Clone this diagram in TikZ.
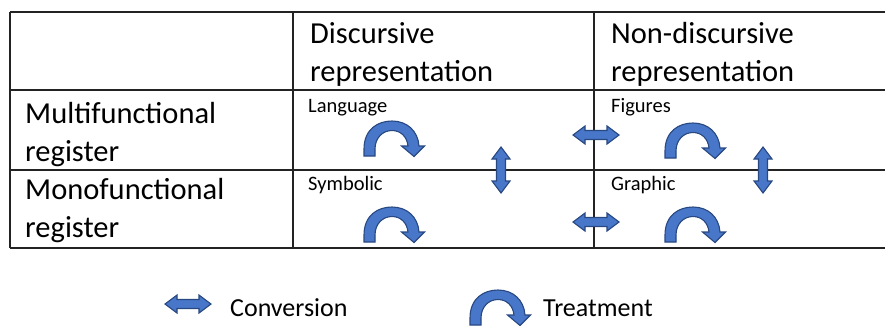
\documentclass[tikz,border=0pt]{standalone}
\usepackage{fontspec}
\setmainfont{Carlito}
\definecolor{arrowfill}{RGB}{72,118,200}
\definecolor{arrowline}{RGB}{40,72,130}
\definecolor{rulecol}{RGB}{35,35,35}

\begin{document}
\begin{tikzpicture}[x=1pt,y=-1pt,
  big/.style={font=\fontsize{30.5}{37.5}\selectfont, anchor=base west, inner sep=0pt, align=left},
  small/.style={font=\fontsize{20.5}{25}\selectfont, anchor=base west, inner sep=0pt},
  legendtext/.style={font=\fontsize{26}{31}\selectfont, anchor=base west, inner sep=0pt},
  gridline/.style={draw=rulecol, line width=1.3pt},
  shapefill/.style={fill=arrowfill, draw=arrowline, line width=1.1pt, line join=miter},
  % curved "treatment" arrow, origin at its top-left corner
  treat/.pic={
    \path[shapefill] (0,35) -- (0,28)
      .. controls (0,8) and (14,0) .. (28,0)
      .. controls (43,0) and (54,10) .. (55,25)
      -- (60.5,25) -- (50,35.5) -- (37.5,25) -- (44,25)
      .. controls (43,15.5) and (36.5,9.5) .. (28,9.5)
      .. controls (18.5,9.5) and (11,17) .. (11,28)
      -- (11,35) -- cycle;
  },
  % double-headed "conversion" arrow, centred on its origin
  conv/.pic={
    \path[shapefill] (-23,0) -- (-11,-9) -- (-11,-4.5) -- (11,-4.5) -- (11,-9)
      -- (23,0) -- (11,9) -- (11,4.5) -- (-11,4.5) -- (-11,9) -- cycle;
  }]

\useasboundingbox (0,0) rectangle (885,325);

% table frame
\coordinate (r0l) at (10,12);   \coordinate (r0r) at (885,12);
\coordinate (r1l) at (10,90);   \coordinate (r1r) at (885,90);
\coordinate (r2l) at (10,170);  \coordinate (r2r) at (885,170);
\coordinate (r3l) at (10,248);  \coordinate (r3r) at (885,248);
\coordinate (c0t) at (10,12);   \coordinate (c0b) at (10,248);
\coordinate (c1t) at (293,12);  \coordinate (c1b) at (293,248);
\coordinate (c2t) at (594,12);  \coordinate (c2b) at (594,248);

\draw[gridline] (r0l) -- (r0r);
\draw[gridline] (r1l) -- (r1r);
\draw[gridline] (r2l) -- (r2r);
\draw[gridline] (r3l) -- (r3r);
\draw[gridline] (c0t) -- (c0b);
\draw[gridline] (c1t) -- (c1b);
\draw[gridline] (c2t) -- (c2b);

% headers (anchored on the baseline of their last line)
\node[big] (hdisc) at (310,81) {Discursive\\representation};
\node[big] (hnondisc) at (611,81) {Non-discursive\\representation};
\node[big] (hmulti) at (25,161) {Multifunctional\\register};
\node[big] (hmono) at (25,237) {Monofunctional\\register};

% cell labels
\node[small] (lang) at (308,112) {Language};
\node[small] (fig) at (611,112) {Figures};
\node[small] (sym) at (308,190) {Symbolic};
\node[small] (graph) at (611,190) {Graphic};

% treatments inside each cell
\pic at (364,121) {treat};
\pic at (364,207) {treat};
\pic at (665,123) {treat};
\pic at (665,207) {treat};

% conversions between cells
\pic at (596,135) {conv};
\pic at (596,222) {conv};
\pic[rotate=90] at (501,170) {conv};
\pic[rotate=90] at (763,170) {conv};

% legend
\pic at (188,304) {conv};
\node[legendtext] (lconv) at (230,316) {Conversion};
\pic at (470,290) {treat};
\node[legendtext] (ltreat) at (543,316) {Treatment};
\end{tikzpicture}
\end{document}
